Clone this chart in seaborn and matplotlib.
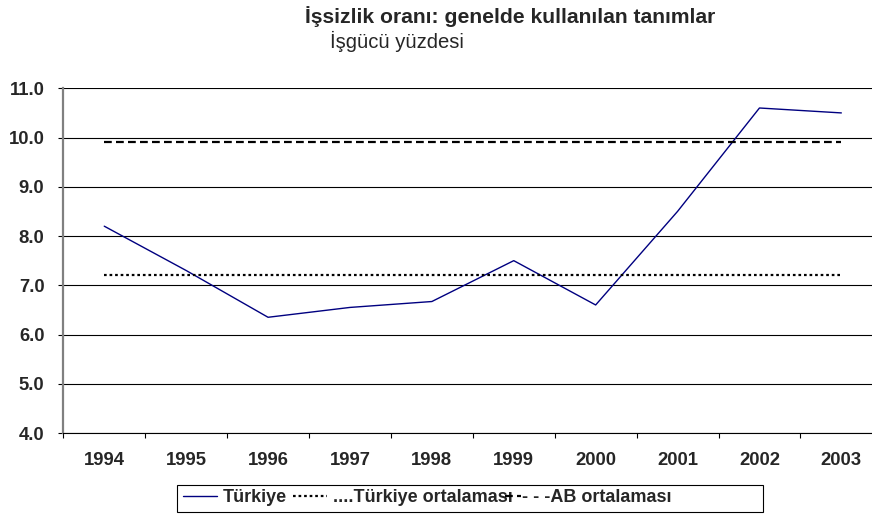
import numpy as np
import pandas as pd
import seaborn as sns
import matplotlib
matplotlib.use("Agg")
import matplotlib.pyplot as plt
from matplotlib.lines import Line2D
from matplotlib.patches import Rectangle

# ---- data ----
years = ['1994', '1995', '1996', '1997', '1998', '1999', '2000', '2001', '2002', '2003']
turkiye = [8.2, 7.3, 6.35, 6.55, 6.67, 7.5, 6.6, 8.5, 10.6, 10.5]
tr_avg = 7.2
ab_avg = 9.9
y_ticks = [4.0, 5.0, 6.0, 7.0, 8.0, 9.0, 10.0, 11.0]
title = "İşsizlik oranı: genelde kullanılan tanımlar"
subtitle = "İşgücü yüzdesi"
legend_labels = ["Türkiye", "....Türkiye ortalaması", "- - -AB ortalaması"]

sns.set_style("white")
plt.rcParams['font.family'] = ['Liberation Sans', 'DejaVu Sans']

W, H = 872, 519
fig = plt.figure(figsize=(W / 100, H / 100), dpi=100)
ax = fig.add_axes([63.3 / W, 86 / H, 819 / W, 344.7 / H])

pos = np.arange(len(years))
df = pd.DataFrame({'pos': pos, 'oran': turkiye})
sns.lineplot(data=df, x='pos', y='oran', ax=ax, color='#000080', lw=1.0, sort=False)

dot_style = (0, (1.2, 1.3))
dash_style = (0, (3.5, 1.9))
ax.hlines(tr_avg, pos[0], pos[-1], colors='black', linestyles=[dot_style], lw=1.6)
ax.hlines(ab_avg, pos[0], pos[-1], colors='black', linestyles=[dash_style], lw=1.6)

ax.set_xlim(-0.5, len(years) - 0.5)
ax.set_ylim(y_ticks[0], y_ticks[-1])
ax.set_xlabel('')
ax.set_ylabel('')

FS = 13.3
ax.set_yticks(y_ticks)
ax.set_yticklabels([f"{v:.1f}" for v in y_ticks], fontweight='bold', fontsize=FS)
ax.set_xticks(np.arange(len(years) + 1) - 0.5)
ax.set_xticklabels([])
ax.set_xticks(pos, minor=True)
ax.set_xticklabels(years, minor=True, fontweight='bold', fontsize=FS)

ax.tick_params(axis='y', which='major', direction='out', length=3.6, width=0.8, color='black', pad=10, left=True)
ax.tick_params(axis='x', which='major', direction='out', length=3.6, width=0.8, color='black', bottom=True)
ax.tick_params(axis='x', which='minor', length=0, pad=14)

ax.yaxis.grid(True, color='black', lw=0.8)
ax.xaxis.grid(False)
ax.set_axisbelow(True)
for s in ['top', 'right']:
    ax.spines[s].set_visible(False)
ax.spines['left'].set_color('#808080')
ax.spines['left'].set_linewidth(1.6)
ax.spines['bottom'].set_color('black')
ax.spines['bottom'].set_linewidth(0.8)

fig.text(305 / W, 1 - 6 / H, title, fontsize=15.2, fontweight='bold', ha='left', va='top')
fig.text(330 / W, 1 - 31 / H, subtitle, fontsize=14.6, ha='left', va='top')

# legend
lp = dict(weight='bold', size=13)
h1 = Line2D([], [], color='#000080', lw=1.0)
h2 = Line2D([], [], color='black', lw=1.6, linestyle=dot_style)
h3 = Line2D([], [], color='black', lw=1.6, linestyle=dash_style)
ly = 1 - 498 / H
leg1 = ax.legend([h1, h2], legend_labels[:2], ncol=2, loc='center left',
                 bbox_to_anchor=(183 / W, ly), bbox_transform=fig.transFigure,
                 frameon=False, borderpad=0, borderaxespad=0, handlelength=1.9,
                 handletextpad=0.3, columnspacing=0.35, prop=lp)
ax.add_artist(leg1)
leg2 = ax.legend([h3], legend_labels[2:], loc='center left',
                 bbox_to_anchor=(505 / W, ly), bbox_transform=fig.transFigure,
                 frameon=False, borderpad=0, borderaxespad=0, handlelength=0.9,
                 handletextpad=0.05, prop=lp)
fig.patches.append(Rectangle((177 / W, (H - 512) / H), (763 - 177) / W, 27 / H,
                             transform=fig.transFigure, fill=False, ec='black', lw=0.8))

fig.savefig('out.png', dpi=100)
